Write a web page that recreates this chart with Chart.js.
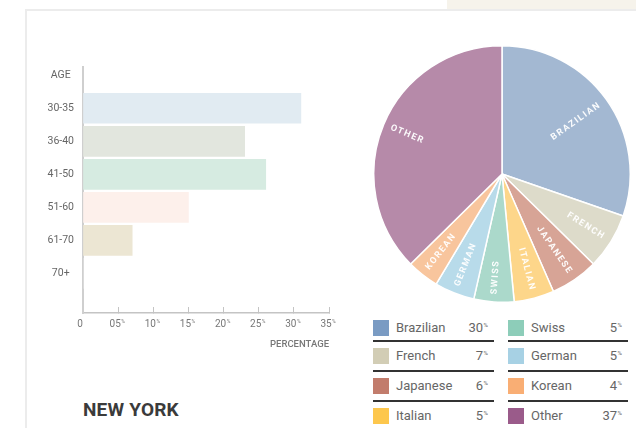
<!DOCTYPE html>
<html>
<head>
<meta charset="utf-8">
<script src="https://cdn.jsdelivr.net/npm/chart.js@4.4.1/dist/chart.umd.min.js"></script>
<style>
  html, body { margin: 0; padding: 0; background: #fff; }
  body { width: 636px; height: 428px; position: relative; overflow: hidden; font-family: Roboto, 'Liberation Sans', sans-serif; }
  #strip { position: absolute; left: 447px; top: 0; width: 189px; height: 9px; background: #f6f3eb; }
  #card { position: absolute; left: 25px; top: 9px; width: 640px; height: 440px; border: 2px solid #ececec; box-sizing: border-box; }
  #barChart { position: absolute; left: 0; top: 0; }
  #pieChart { position: absolute; left: 373px; top: 45px; }
  #city { position: absolute; left: 83px; top: 398px; font-weight: 700; font-size: 19px; color: #3b3b3b; letter-spacing: 0.2px; line-height: 24px; }
  .item { position: absolute; height: 20px; font-size: 13px; color: #666; line-height: 20px; }
  .item .sw { position: absolute; left: 0; top: 2px; width: 16px; height: 16px; }
  .item .name { position: absolute; left: 23px; top: 0; }
  .item .val { position: absolute; right: 6px; top: 0; }
  .item .val sup { font-size: 6px; vertical-align: 5px; line-height: 0; margin-left: 0.5px; }
  .rule { position: absolute; height: 1.5px; background: #333; }
</style>
</head>
<body>
<div id="strip"></div>
<div id="card"></div>
<canvas id="barChart" width="360" height="360"></canvas>
<canvas id="pieChart" width="258" height="258"></canvas>
<div id="legend"></div>
<div id="city">NEW YORK</div>
<script>
// age breakdown (bar chart)
const ageGroups = ['30-35', '36-40', '41-50', '51-60', '61-70', '70+'];
const agePercent = [31, 23, 26, 15, 7, 0];
const ageColors = ['#e1ebf2', '#e2e6de', '#d6ebe1', '#fdf0eb', '#ece6d3', '#eeeeee'];
const xTicks = [0, 5, 10, 15, 20, 25, 30, 35];

// nationalities (pie chart + legend)
const nationalities = ['Brazilian', 'French', 'Japanese', 'Italian', 'Swiss', 'German', 'Korean', 'Other'];
const nationPercent = [30, 7, 6, 5, 5, 5, 4, 37];
const pieColors = ['#a3b8d2', '#dddbca', '#d7a496', '#fdd68a', '#abd9cb', '#b8dbea', '#f8c59d', '#b68aa9'];
const legendColors = ['#7a9bc3', '#d2cdb5', '#c27c6c', '#fdc74d', '#8dcdb9', '#a7d1e4', '#f9ae74', '#9a5b8a'];

// little superscript % after the x tick labels
const percentSign = {
    id: 'percentSign',
    afterDraw(chart) {
        const scale = chart.scales.x;
        const ctx = chart.ctx;
        ctx.save();
        ctx.fillStyle = '#777';
        ctx.textBaseline = 'top';
        scale.ticks.forEach(t => {
            if (t.value === 0) return;
            ctx.font = '10px Roboto';
            const w = ctx.measureText(t.label).width;
            const x = scale.getPixelForValue(t.value) - 3 + w / 2 + 0.5;
            ctx.font = '5px Roboto';
            ctx.fillText('%', x, scale.top + 6);
        });
        ctx.restore();
    }
};

new Chart(document.getElementById('barChart'), {
    type: 'bar',
    data: {
        datasets: [{
            data: ageGroups.map((g, i) => ({ x: agePercent[i], y: i + 1 })),
            backgroundColor: ageColors,
            borderWidth: 0,
            barThickness: 30
        }]
    },
    options: {
        indexAxis: 'y',
        responsive: false,
        animation: false,
        layout: { padding: { left: 37, top: 67, right: 31, bottom: 7 } },
        plugins: { legend: { display: false }, tooltip: { enabled: false } },
        scales: {
            x: {
                type: 'linear',
                min: 0,
                max: 35,
                afterBuildTicks: s => { s.ticks = xTicks.map(v => ({ value: v })); },
                grid: { drawOnChartArea: false, tickLength: -6, color: '#c4c4c4', lineWidth: 1 },
                border: { color: '#c4c4c4', width: 1.5 },
                ticks: {
                    padding: 11,
                    labelOffset: -3,
                    color: '#777',
                    font: { size: 10, family: 'Roboto' },
                    callback: v => v === 0 ? '0' : String(v).padStart(2, '0')
                },
                title: {
                    display: true,
                    text: 'PERCENTAGE',
                    align: 'end',
                    color: '#777',
                    font: { size: 9.5, weight: '500', family: 'Roboto' },
                    padding: { top: 0, bottom: 3 }
                },
                afterFit: s => { s.height = 40; s.paddingLeft = 0; s.paddingRight = 0; }
            },
            y: {
                type: 'linear',
                reverse: true,
                offset: false,
                min: -0.25,
                max: 7.2,
                afterBuildTicks: s => { s.ticks = [0, 1, 2, 3, 4, 5, 6].map(v => ({ value: v })); },
                grid: { display: false, drawTicks: false, offset: false },
                border: { color: '#cfcfcf', width: 2 },
                ticks: {
                    padding: 9,
                    crossAlign: 'center',
                    color: '#666',
                    font: { size: 10.5, family: 'Roboto' },
                    callback: v => v === 0 ? 'AGE' : ageGroups[v - 1]
                },
                afterFit: s => { s.width = 46; s.paddingTop = 0; s.paddingBottom = 0; }
            }
        }
    },
    plugins: [percentSign]
});

// names written along each slice
const sliceLabels = {
    id: 'sliceLabels',
    afterDatasetsDraw(chart) {
        const ctx = chart.ctx;
        chart.getDatasetMeta(0).data.forEach((arc, i) => {
            const p = arc.getProps(['x', 'y', 'startAngle', 'endAngle', 'outerRadius']);
            const mid = (p.startAngle + p.endAngle) / 2;
            const text = nationalities[i].toUpperCase();
            ctx.save();
            ctx.font = 'bold 9px Roboto';
            ctx.letterSpacing = '1.5px';
            const w = ctx.measureText(text).width;
            const r = p.outerRadius * 0.94 - w / 2;
            ctx.translate(p.x + Math.cos(mid) * r, p.y + Math.sin(mid) * r);
            ctx.rotate(Math.cos(mid) < 0 ? mid + Math.PI : mid);
            ctx.fillStyle = 'rgba(255,255,255,0.95)';
            ctx.textAlign = 'center';
            ctx.textBaseline = 'middle';
            ctx.fillText(text, 0, 0);
            ctx.restore();
        });
    }
};

new Chart(document.getElementById('pieChart'), {
    type: 'pie',
    data: {
        labels: nationalities,
        datasets: [{
            data: nationPercent,
            backgroundColor: pieColors,
            borderColor: '#fff',
            borderWidth: 1.5
        }]
    },
    options: {
        responsive: false,
        animation: false,
        plugins: { legend: { display: false }, tooltip: { enabled: false } }
    },
    plugins: [sliceLabels]
});

// legend, two columns of four
const legend = document.getElementById('legend');
const colLeft = [373, 508];
const colWidth = [121, 120];
const rowMid = [328, 356, 386, 416];
nationalities.forEach((n, i) => {
    const col = Math.floor(i / 4), row = i % 4;
    const item = document.createElement('div');
    item.className = 'item';
    item.style.left = colLeft[col] + 'px';
    item.style.top = (rowMid[row] - 10) + 'px';
    item.style.width = colWidth[col] + 'px';
    item.innerHTML = '<div class="sw" style="background:' + legendColors[i] + '"></div>' +
        '<span class="name">' + n + '</span>' +
        '<span class="val">' + nationPercent[i] + '<sup>%</sup></span>';
    legend.appendChild(item);
    if (row < 3) {
        const rule = document.createElement('div');
        rule.className = 'rule';
        rule.style.left = colLeft[col] + 'px';
        rule.style.top = (341 + row * 30 - 0.75) + 'px';
        rule.style.width = colWidth[col] + 'px';
        legend.appendChild(rule);
    }
});
</script>
</body>
</html>
